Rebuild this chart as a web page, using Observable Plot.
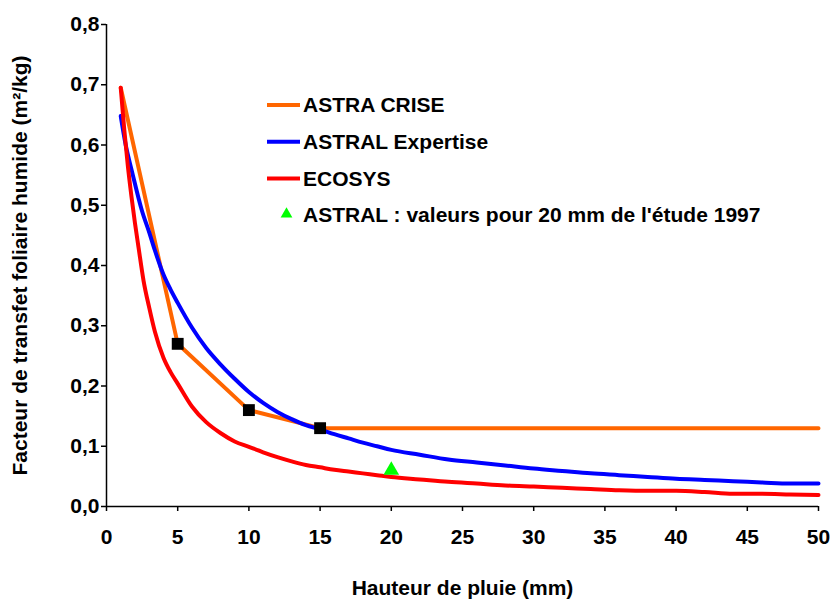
<!DOCTYPE html>
<html><head><meta charset="utf-8">
<script src="https://cdn.jsdelivr.net/npm/d3@7"></script>
<script src="https://cdn.jsdelivr.net/npm/@observablehq/plot@0.6"></script>
<style>
body{margin:0;background:#fff}
svg{font-family:"Liberation Sans",Arial,sans-serif;font-weight:bold}
</style>
</head><body><div id="chart"></div>
<script>
// ASTRA CRISE
const criseX = [1, 5, 10, 15, 50];
const criseY = [0.695, 0.27, 0.16, 0.13, 0.13];
const criseMarkX = [5, 10, 15];
const criseMarkY = [0.27, 0.16, 0.13];
// ASTRAL Expertise
const expertiseX = [1, 1.35, 1.8, 2.5, 3, 3.4, 4, 4.5, 5, 6, 7, 8, 9, 10, 11, 12, 13, 14, 15, 16, 17, 18, 19, 20, 22, 24, 26, 28, 30, 32, 34, 36, 38, 40, 42, 44, 46, 48, 50];
const expertiseY = [0.648, 0.60, 0.555, 0.49, 0.455, 0.425, 0.385, 0.36, 0.338, 0.297, 0.263, 0.236, 0.212, 0.19, 0.172, 0.157, 0.145, 0.135, 0.128, 0.12, 0.113, 0.106, 0.10, 0.094, 0.086, 0.078, 0.073, 0.068, 0.063, 0.059, 0.055, 0.052, 0.049, 0.046, 0.044, 0.042, 0.040, 0.038, 0.038];
// ECOSYS
const ecosysX = [1, 1.25, 1.5, 1.75, 2, 2.25, 2.6, 3, 3.4, 4, 4.5, 5, 6, 7, 8, 9, 10, 11, 12, 13, 14, 15, 16, 17, 18, 19, 20, 22, 24, 26, 28, 30, 32, 34, 36, 38, 40, 42, 44, 46, 48, 50];
const ecosysY = [0.695, 0.625, 0.565, 0.515, 0.47, 0.43, 0.375, 0.33, 0.29, 0.247, 0.223, 0.204, 0.166, 0.14, 0.122, 0.108, 0.099, 0.09, 0.082, 0.075, 0.069, 0.065, 0.061, 0.058, 0.055, 0.052, 0.049, 0.045, 0.041, 0.038, 0.035, 0.033, 0.031, 0.029, 0.027, 0.026, 0.026, 0.024, 0.021, 0.021, 0.020, 0.019];
// ASTRAL 1997
const astralX = [20];
const astralY = [0.06];

const xTicks = [0, 5, 10, 15, 20, 25, 30, 35, 40, 45, 50];
const yTicks = [0, 0.1, 0.2, 0.3, 0.4, 0.5, 0.6, 0.7, 0.8];
const xLabel = "Hauteur de pluie (mm)";
const yLabel = "Facteur de transfet foliaire humide (m²/kg)";
const legendLabels = ["ASTRA CRISE", "ASTRAL Expertise", "ECOSYS", "ASTRAL : valeurs pour 20 mm de l'étude 1997"];
const legendColors = ["#FF6600", "#0000FF", "#FF0000", "#00FF00"];
const legendKinds = ["line", "line", "line", "triangle"];

const zip = (xs, ys) => xs.map((x, i) => ({x, y: ys[i]}));
const crise = zip(criseX, criseY);
const criseMarks = zip(criseMarkX, criseMarkY);
const expertise = zip(expertiseX, expertiseY);
const ecosys = zip(ecosysX, ecosysY);
const astral = zip(astralX, astralY);
const fmtY = d => d3.format(".1f")(d).replace(".", ",");

function legendMark(index, scales, values, dim) {
  const g = d3.create("svg:g").attr("text-anchor", "start");
  const x0 = dim.marginLeft + 161, x1 = dim.marginLeft + 194, tx = dim.marginLeft + 197;
  legendLabels.forEach((lab, i) => {
    const y = dim.marginTop + 81 + i * 36.7;
    if (legendKinds[i] === "line") {
      g.append("line").attr("x1", x0).attr("x2", x1).attr("y1", y).attr("y2", y)
        .attr("stroke", legendColors[i]).attr("stroke-width", 4);
    } else {
      g.append("path").attr("transform", `translate(${(x0 + x1) / 2 + 3},${y - 1})`)
        .attr("d", d3.symbol(d3.symbolTriangle, 60)()).attr("fill", legendColors[i]);
    }
    g.append("text").attr("x", tx).attr("y", y).attr("dy", "0.35em").attr("text-anchor", "start")
      .attr("font-size", 21).attr("font-weight", "bold").attr("fill", "#000").text(lab);
  });
  return g.node();
}

const chart = Plot.plot({
  width: 834, height: 601,
  marginLeft: 106, marginRight: 16, marginTop: 24, marginBottom: 95,
  style: {fontSize: "21px", fontWeight: "bold", fontFamily: "'Liberation Sans', Arial, sans-serif", color: "#000", background: "#fff"},
  x: {domain: [0, 50]},
  y: {domain: [0, 0.8]},
  marks: [
    Plot.axisX({ticks: xTicks, tickSize: 5, tickPadding: 18, label: null, stroke: "#000", strokeWidth: 1.5, strokeOpacity: 1, fontSize: 21, fontWeight: "bold"}),
    Plot.axisY({ticks: yTicks, tickSize: 5, tickPadding: 2, tickFormat: fmtY, label: null, stroke: "#000", strokeWidth: 1.5, strokeOpacity: 1, fontSize: 21, fontWeight: "bold"}),
    Plot.ruleX([0], {stroke: "#000", strokeWidth: 1.5}),
    Plot.ruleY([0], {stroke: "#000", strokeWidth: 1.5}),
    Plot.line(crise, {x: "x", y: "y", stroke: "#FF6600", strokeWidth: 4}),
    Plot.line(expertise, {x: "x", y: "y", stroke: "#0000FF", strokeWidth: 4, curve: "monotone-x"}),
    Plot.line(ecosys, {x: "x", y: "y", stroke: "#FF0000", strokeWidth: 4, curve: "monotone-x"}),
    Plot.dot(criseMarks, {x: "x", y: "y", symbol: "square", r: 6.7, fill: "#000", stroke: "none"}),
    Plot.dot(astral, {x: "x", y: "y", symbol: "triangle", r: 5.8, fill: "#00FF00", stroke: "none"}),
    Plot.text([xLabel], {frameAnchor: "bottom", dy: 88, text: d => d, textAnchor: "middle", fontSize: 21, fontWeight: "bold", fill: "#000"}),
    Plot.text([yLabel], {frameAnchor: "left", dx: -86, rotate: -90, text: d => d, textAnchor: "middle", fontSize: 21, fontWeight: "bold", fill: "#000"}),
    legendMark
  ]
});
document.getElementById("chart").append(chart);
</script>
</body></html>
